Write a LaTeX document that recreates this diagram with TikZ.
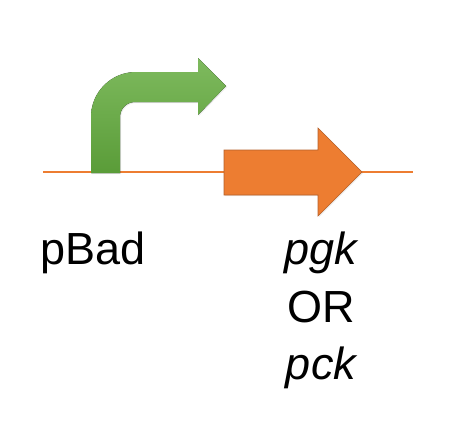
\documentclass[tikz,border=0pt]{standalone}
\usepackage{fontspec}
\setmainfont{Liberation Sans}
\usetikzlibrary{shadows}
\definecolor{geneorange}{HTML}{ED7D31}
\definecolor{genedark}{HTML}{B4602A}
\definecolor{promtop}{HTML}{7EBA5E}
\definecolor{prombot}{HTML}{5A9C38}

\begin{document}
\begin{tikzpicture}[x=1pt,y=-1pt] % pixel units, y downwards
   \tikzset{lbl/.style={font=\fontsize{45}{57}\selectfont,anchor=base,inner sep=0pt}}
   \useasboundingbox (0,0) rectangle (468,434);
   % backbone
   \coordinate (dnaL) at (43,172);
   \coordinate (dnaR) at (413,172);
   \draw[geneorange,line width=1.3pt] (dnaL) -- (dnaR);
   % promoter arrow
   \fill[top color=promtop,bottom color=prombot,
         drop shadow={opacity=0.15,shadow xshift=1pt,shadow yshift=-1pt}]
      (91,173) -- (91,117) .. controls (91,92.1) and (111.1,72) .. (136,72)
      -- (198,72) -- (198,58) -- (226,86) -- (198,115) -- (198,102)
      -- (135,102) .. controls (126.7,102) and (120,108.7) .. (120,117)
      -- (120,173) -- cycle;
   % gene arrow
   \draw[genedark,fill=geneorange,line width=0.6pt,
         drop shadow={opacity=0.15,shadow xshift=1pt,shadow yshift=-1pt}]
      (224,150) -- (318,150) -- (318,128) -- (362,172)
      -- (318,216) -- (318,195) -- (224,195) -- cycle;
   % labels
   \node[lbl] (pbad) at (93,264) {pBad};
   \node[lbl] (pgk) at (321,264) {\itshape pgk};
   \node[lbl] (or) at (321,322) {OR};
   \node[lbl] (pck) at (321,379) {\itshape pck};
\end{tikzpicture}
\end{document}
